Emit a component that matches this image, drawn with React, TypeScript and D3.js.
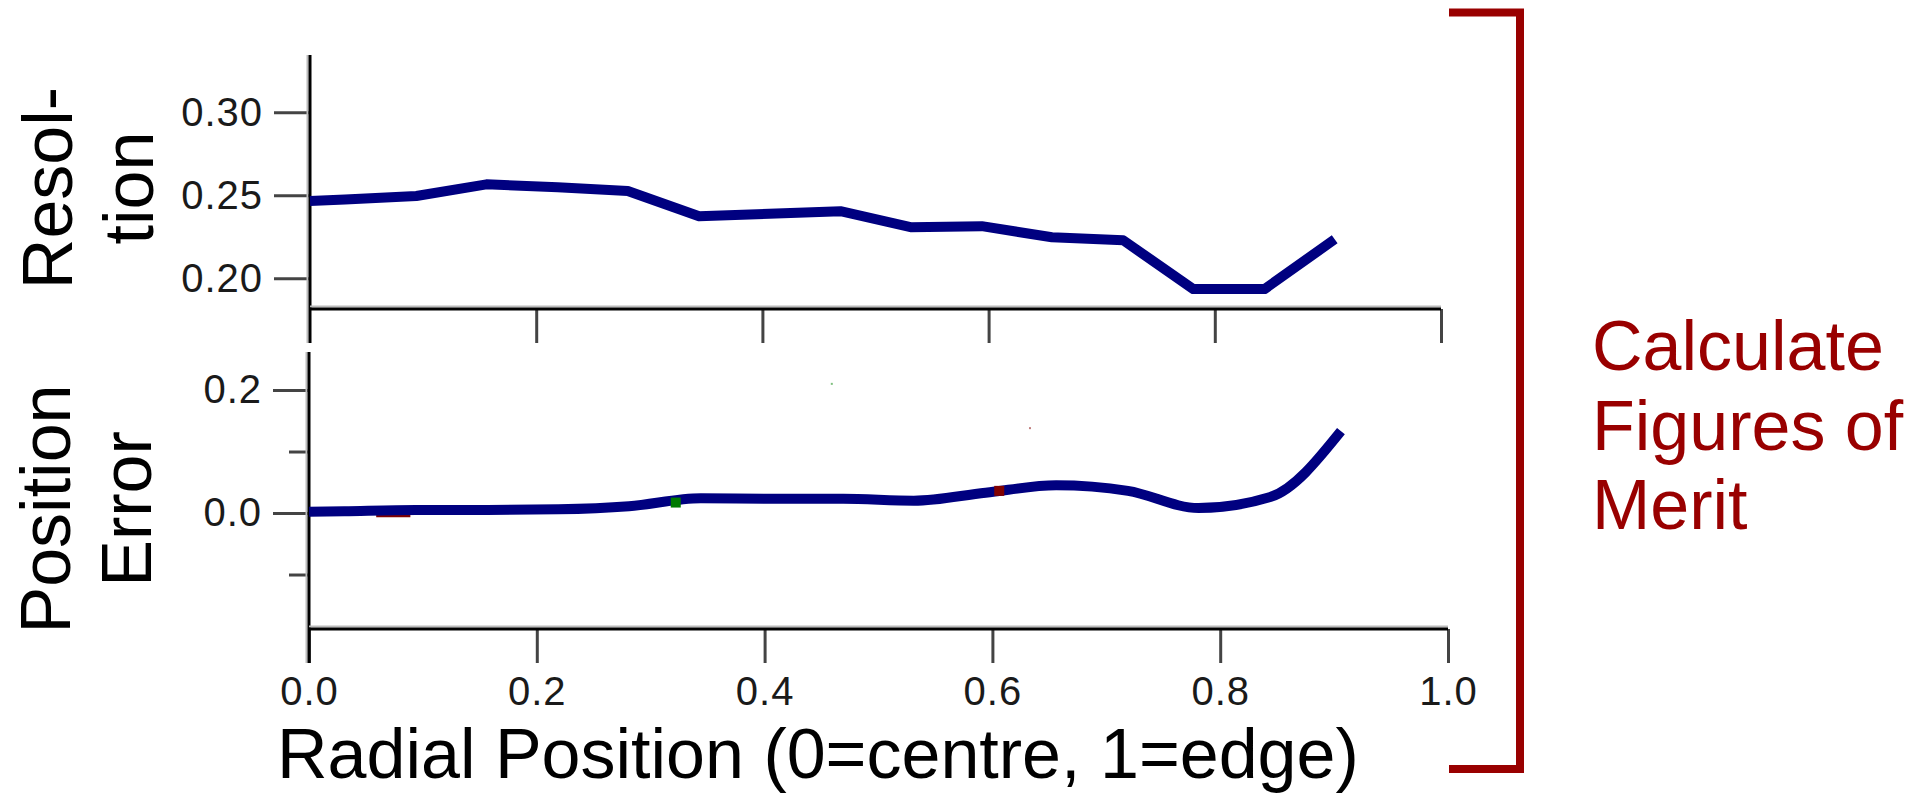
import React, { useEffect, useRef } from 'react';
import * as d3 from 'd3';

// radial positions of the samples (0 = centre, 1 = edge)
const radialPos = [0, 0.031, 0.094, 0.156, 0.219, 0.281, 0.344, 0.406, 0.469, 0.531, 0.594, 0.656, 0.719, 0.781, 0.844, 0.906];
const resolution = [0.2466, 0.2475, 0.2496, 0.2566, 0.2548, 0.2526, 0.2374, 0.2389, 0.2404, 0.2308, 0.2314, 0.2247, 0.2229, 0.1935, 0.1935, 0.2235];
const positionError = [0.002, 0.003, 0.005, 0.005, 0.006, 0.011, 0.024, 0.023, 0.023, 0.020, 0.033, 0.045, 0.036, 0.008, 0.026, 0.133];

// stray points of the hidden series
const greenDots = [[0.322, 0.017]];
const greenSpecks = [[0.459, 0.21]];
const redDots = [[0.606, 0.036]];
const redSpecks = [[0.633, 0.138]];
const redTrace = [[0.059, -0.003], [0.089, -0.003]];

const resTicks = [0.2, 0.25, 0.3];
const errMajorTicks = [0, 0.2];
const errMinorTicks = [-0.1, 0.1];
const xTickValues = [0, 0.2, 0.4, 0.6, 0.8, 1.0];

const FONT = "'Liberation Sans', Arial, Helvetica, sans-serif";
const NAVY = '#000080';
const DARK_RED = '#990000';

export default function App() {
    const ref = useRef<SVGSVGElement>(null);

    useEffect(() => {
        const svg = d3.select(ref.current);
        svg.selectAll('*').remove();

        // scales
        const xTop = d3.scaleLinear().domain([0, 1]).range([310, 1441]);
        const yTop = d3.scaleLinear().domain([0.1815, 0.3345]).range([309, 55]);
        const xBot = d3.scaleLinear().domain([0, 1]).range([309, 1448]);
        const yBot = d3.scaleLinear().domain([-0.1886, 0.2618]).range([629, 352]);

        const styleAxis = (g) => {
            g.select('.domain').remove();
            g.selectAll('.tick line').attr('stroke', '#444').attr('stroke-width', 3);
            g.selectAll('.tick text')
                .attr('fill', '#1a1a1a')
                .attr('font-family', FONT)
                .attr('font-size', 40)
                .attr('letter-spacing', 1);
        };

        // axis line with the faint grey edge seen in the original
        const axisLine = (x1, y1, x2, y2, dx, dy) => {
            svg.append('line')
                .attr('x1', x1 + dx).attr('y1', y1 + dy).attr('x2', x2 + dx).attr('y2', y2 + dy)
                .attr('stroke', '#bbb').attr('stroke-width', 2);
            svg.append('line')
                .attr('x1', x1).attr('y1', y1).attr('x2', x2).attr('y2', y2)
                .attr('stroke', '#000').attr('stroke-width', 3);
        };

        // ---- top panel (Resolution)
        svg.append('g')
            .attr('transform', 'translate(310,0)')
            .call(d3.axisLeft(yTop).tickValues(resTicks).tickSize(36).tickPadding(11).tickFormat(d3.format('.2f')))
            .call(styleAxis);

        svg.append('g')
            .attr('transform', 'translate(0,309)')
            .call(d3.axisBottom(xTop).tickValues(xTickValues.slice(1)).tickSize(34).tickFormat(() => ''))
            .call(styleAxis);

        axisLine(310, 55, 310, 343, -2.5, 0);
        axisLine(310, 309, 1441, 309, 0, -2.5);

        const lineTop = d3.line<number>()
            .x((_, i) => xTop(radialPos[i]))
            .y(d => yTop(d));

        svg.append('path')
            .datum(resolution)
            .attr('d', lineTop)
            .attr('fill', 'none')
            .attr('stroke', NAVY)
            .attr('stroke-width', 10)
            .attr('stroke-linejoin', 'round');

        // ---- bottom panel (Position Error)
        svg.append('g')
            .attr('transform', 'translate(309,0)')
            .call(d3.axisLeft(yBot).tickValues(errMajorTicks).tickSize(36).tickPadding(11).tickFormat(d3.format('.1f')))
            .call(styleAxis);

        svg.append('g')
            .attr('transform', 'translate(309,0)')
            .call(d3.axisLeft(yBot).tickValues(errMinorTicks).tickSize(20).tickFormat(() => ''))
            .call(styleAxis);

        svg.append('g')
            .attr('transform', 'translate(0,629)')
            .call(d3.axisBottom(xBot).tickValues(xTickValues).tickSize(34).tickPadding(14).tickFormat(d3.format('.1f')))
            .call(styleAxis);

        axisLine(309, 352, 309, 663, -2.5, 0);
        axisLine(309, 629, 1448, 629, 0, -2.5);

        svg.append('path')
            .datum(redTrace)
            .attr('d', d3.line().x(d => xBot(d[0])).y(d => yBot(d[1])))
            .attr('stroke', '#800000')
            .attr('stroke-width', 5);

        const lineBot = d3.line<number>()
            .x((_, i) => xBot(radialPos[i]))
            .y(d => yBot(d))
            .curve(d3.curveMonotoneX);

        svg.append('path')
            .datum(positionError)
            .attr('d', lineBot)
            .attr('fill', 'none')
            .attr('stroke', NAVY)
            .attr('stroke-width', 10)
            .attr('stroke-linejoin', 'round');

        const dots = (data, color, size) => {
            svg.append('g').selectAll('rect')
                .data(data)
                .enter()
                .append('rect')
                .attr('x', d => xBot(d[0]) - size / 2)
                .attr('y', d => yBot(d[1]) - size / 2)
                .attr('width', size)
                .attr('height', size)
                .attr('fill', color);
        };
        dots(greenDots, '#007a00', 10);
        dots(greenSpecks, '#7fc07f', 2);
        dots(redDots, '#800000', 10);
        dots(redSpecks, '#c07f7f', 2);

        // ---- axis titles
        const title = (lines, x0, cy) => {
            lines.forEach((t, i) => {
                svg.append('text')
                    .attr('transform', `translate(${x0 + i * 81},${cy}) rotate(-90)`)
                    .attr('text-anchor', 'middle')
                    .attr('font-family', FONT)
                    .attr('font-size', 70)
                    .attr('fill', '#000')
                    .text(t);
            });
        };
        title(['Resol-', 'tion'], 72, 188);
        title(['Position', 'Error'], 70, 509);

        svg.append('text')
            .attr('x', 277)
            .attr('y', 778)
            .attr('font-family', FONT)
            .attr('font-size', 70)
            .attr('fill', '#000')
            .text('Radial Position (0=centre, 1=edge)');

        // ---- bracket and note
        svg.append('path')
            .attr('d', 'M1449,12.5H1520V769H1449')
            .attr('fill', 'none')
            .attr('stroke', DARK_RED)
            .attr('stroke-width', 8);

        ['Calculate', 'Figures of', 'Merit'].forEach((t, i) => {
            svg.append('text')
                .attr('x', 1592)
                .attr('y', 370 + i * 79.5)
                .attr('font-family', FONT)
                .attr('font-size', 70)
                .attr('fill', DARK_RED)
                .text(t);
        });
    }, []);

    return (
        <svg
            ref={ref}
            width={1914}
            height={793}
            style={{ position: 'absolute', left: 0, top: 0, background: '#fff' }}
        />
    );
}
